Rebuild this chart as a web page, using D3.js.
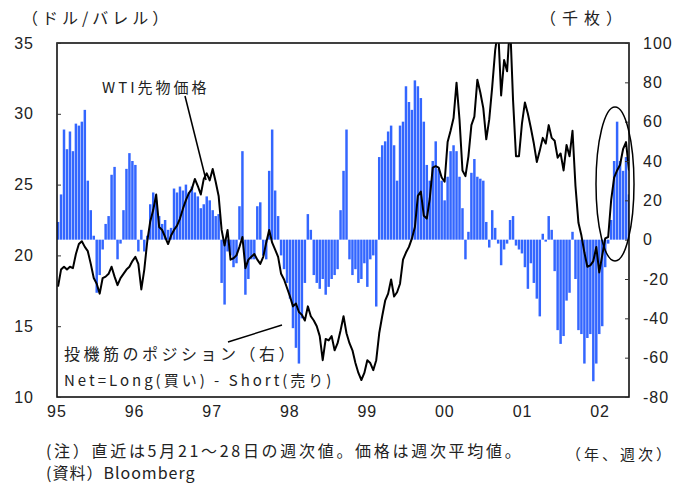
<!DOCTYPE html>
<html>
<head>
<meta charset="utf-8">
<script src="https://cdn.jsdelivr.net/npm/d3@7/dist/d3.min.js"></script>
<style>
body { margin: 0; background: #fff; }
text { font-family: "Noto Sans CJK JP", "Liberation Sans", sans-serif; fill: #222; }
.num { font-family: "Liberation Sans", Arial, sans-serif; font-size: 16px; letter-spacing: 1px; }
</style>
</head>
<body>
<div id="chart"></div>
<script>
//Width and height
var w = 677;
var h = 483;

//Plot frame (not "top": that name is taken by window.top)
var plotL = 57, plotR = 629, plotT = 43, plotB = 397;

//Data: one value every two weeks from the first week of 1995
var startDate = new Date(1995, 0, 6);
var stepDays = 14;

//WTI futures price, dollars per barrel (left axis)
var price = [
    17.8, 19.0, 19.2, 19.0, 19.2, 19.1, 20.1, 20.8, 21.0, 20.6, 20.3, 19.4, 18.4, 18.0, 17.3, 18.4, 18.5, 18.7, 19.2, 18.5,
    17.9, 18.4, 18.7, 19.0, 19.2, 19.6, 19.9, 19.4, 17.6, 19.0, 21.0, 22.4, 23.2, 24.3, 22.0, 21.8, 21.3, 20.8, 21.4, 21.8,
    22.1, 22.6, 23.3, 23.9, 24.4, 24.7, 25.4, 24.9, 24.3, 25.4, 25.8, 25.3, 26.1, 25.2, 24.2, 21.8, 20.7, 21.8, 19.7, 19.8,
    20.0, 20.6, 21.3, 19.1, 19.7, 19.9, 20.1, 19.7, 19.4, 19.9, 20.9, 21.8, 20.9, 20.4, 19.9, 18.7, 18.3, 17.7, 17.1, 16.4,
    16.6, 16.0, 15.8, 15.4, 16.4, 15.7, 15.4, 15.0, 14.3, 12.6, 14.1, 14.0, 14.3, 13.3, 13.8, 14.7, 15.7, 14.5, 13.8, 13.3,
    12.4, 11.7, 11.2, 11.7, 12.6, 12.4, 11.9, 12.6, 14.5, 15.7, 16.8, 17.3, 18.3, 17.1, 17.4, 18.0, 19.7, 20.2, 20.6, 21.2,
    22.0, 24.2, 24.5, 22.8, 22.6, 24.0, 26.2, 26.3, 26.2, 25.5, 25.2, 28.0, 28.8, 29.7, 32.2, 29.6, 26.0, 25.6, 27.0, 29.2,
    29.8, 32.4, 31.5, 30.4, 28.2, 29.6, 31.9, 34.5, 36.0, 31.3, 33.8, 33.0, 36.5, 31.0, 27.0, 27.0, 29.3, 30.8, 30.0, 29.0,
    27.9, 26.6, 27.4, 28.3, 27.9, 29.2, 28.3, 28.1, 26.9, 27.2, 26.0, 27.8, 27.0, 28.8, 24.9, 22.3, 21.4, 20.2, 19.2, 19.3,
    19.6, 20.6, 18.8, 20.0, 21.2, 21.3, 23.9, 25.5, 26.0, 26.4, 27.5, 28.0, 26.0
];

//Speculators' net position, thousand contracts (right axis)
var position = [
    9, 23, 56, 46, 55, 45, 59, 58, 60, 66, 30, 15, 2, -27, -18, -5, 8, 12, 33, 37,
    -10, -2, 15, 36, 44, 40, 38, -6, 5, -6, 2, 18, 24, 20, 12, 8, 10, 5, 6, 26,
    24, 27, 25, 28, 24, 27, 24, 22, 16, 18, 22, 20, 15, 12, 13, -22, -33, -6, -8, -14,
    -12, 17, 45, -28, -20, -10, -10, 17, 19, -8, -10, 35, 56, 25, 12, -8, -15, -22, -30, -45,
    -55, -63, -40, -22, 13, 5, -18, -22, -25, -20, -28, -24, -20, -18, -15, 15, 35, 56, -10, -18,
    -15, -22, -20, -12, -24, -10, -8, -34, 42, 48, 50, 55, 58, 48, 30, 58, 60, 78, 70, 66,
    81, 78, 72, 60, 38, 30, 40, 50, 36, 30, 20, 32, 45, 48, 45, 32, 16, -10, 4, 34,
    41, 32, 31, 30, 9, -4, 15, 6, -2, -13, -5, -2, 10, 12, -3, -5, -7, -14, -25, -12,
    -22, -30, -39, 3, -1, 12, 5, -16, -46, -53, -49, -31, -27, 4, -20, -46, -48, -63, -50, -48,
    -72, -63, -48, -44, -14, -2, 10, 40, 60, 40, 35, 42, 23
];

//Tick labels
var leftTicks = [10, 15, 20, 25, 30, 35];
var rightTicks = [-80, -60, -40, -20, 0, 20, 40, 60, 80, 100];
var yearLabels = ["95", "96", "97", "98", "99", "00", "01", "02"];
var years = [1995, 1996, 1997, 1998, 1999, 2000, 2001, 2002];

//Build the rows
var rows = price.map(function(p, i) {
    return {date: d3.timeDay.offset(startDate, i * stepDays), price: p, pos: position[i]};
});

//Scales
var x = d3.scaleTime()
    .domain([new Date(1995, 0, 1), new Date(2002, 4, 17)])
    .range([plotL, plotR]);
var yL = d3.scaleLinear().domain([10, 35]).range([plotB, plotT]);
var yR = d3.scaleLinear().domain([-80, 100]).range([plotB, plotT]);

var step = x(d3.timeDay.offset(startDate, stepDays)) - x(startDate);
var barW = step - 0.5;

//Create SVG element
var svg = d3.select("#chart")
    .append("svg")
    .attr("width", w)
    .attr("height", h);

svg.append("clipPath")
    .attr("id", "plotclip")
    .append("rect")
    .attr("x", plotL)
    .attr("y", plotT)
    .attr("width", plotR - plotL)
    .attr("height", plotB - plotT);

var plot = svg.append("g").attr("clip-path", "url(#plotclip)");

//Bars for the position
plot.selectAll("rect.bar")
    .data(rows)
    .enter()
    .append("rect")
    .attr("class", "bar")
    .attr("x", function(d) { return x(d.date) - barW / 2; })
    .attr("width", barW)
    .attr("y", function(d) { return yR(Math.max(0, d.pos)); })
    .attr("height", function(d) { return Math.abs(yR(d.pos) - yR(0)); })
    .style("fill", "#3366ff");

//Price line
var line = d3.line()
    .x(function(d) { return x(d.date); })
    .y(function(d) { return yL(d.price); });

plot.append("path")
    .datum(rows)
    .attr("d", line)
    .style("fill", "none")
    .style("stroke", "#000")
    .style("stroke-width", 2)
    .style("stroke-linejoin", "round");

//Frame
svg.append("rect")
    .attr("x", plotL)
    .attr("y", plotT)
    .attr("width", plotR - plotL)
    .attr("height", plotB - plotT)
    .style("fill", "none")
    .style("stroke", "#111")
    .style("stroke-width", 1.6);

//Left axis
var axL = svg.append("g")
    .attr("transform", "translate(" + plotL + ",0)")
    .call(d3.axisLeft(yL).tickValues(leftTicks).tickSize(-4).tickPadding(23).tickFormat(d3.format("d")));
//Right axis
var axR = svg.append("g")
    .attr("transform", "translate(" + plotR + ",0)")
    .call(d3.axisRight(yR).tickValues(rightTicks).tickSize(-4).tickPadding(14).tickFormat(function(d) { return d < 0 ? "-" + Math.abs(d) : d; }));

[axL, axR].forEach(function(a) {
    a.select(".domain").remove();
    a.selectAll("line").style("stroke", "#333");
    a.selectAll("text").attr("class", "num").style("fill", "#222");
});

//Year labels
svg.selectAll("text.year")
    .data(years)
    .enter()
    .append("text")
    .attr("class", "year num")
    .attr("x", function(d) { return x(new Date(d, 0, 1)); })
    .attr("y", 417)
    .attr("text-anchor", "middle")
    .text(function(d, i) { return yearLabels[i]; });

//Axis titles
svg.append("text").attr("x", 22).attr("y", 24).style("font-size", "16px").style("letter-spacing", "4px").text("（ドル/バレル）");
svg.append("text").attr("x", 540).attr("y", 24).style("font-size", "16px").style("letter-spacing", "6px").text("（千枚）");

//Series annotations
svg.append("text").attr("x", 102).attr("y", 93).style("font-size", "15px").style("letter-spacing", "3px").text("WTI先物価格");
svg.append("line").attr("x1", 185).attr("y1", 96).attr("x2", 206).attr("y2", 180)
    .style("stroke", "#000").style("stroke-width", 1.5);

svg.append("text").attr("x", 64).attr("y", 360).style("font-size", "16px").style("letter-spacing", "3.5px").text("投機筋のポジション（右）");
svg.append("text").attr("x", 64).attr("y", 386).style("font-size", "15px").style("letter-spacing", "3px").text("Net=Long(買い) - Short(売り)");
svg.append("line").attr("x1", 228).attr("y1", 342).attr("x2", 282).attr("y2", 325)
    .style("stroke", "#000").style("stroke-width", 1.5);

//Ellipse around the latest weeks
svg.append("ellipse")
    .attr("cx", 615).attr("cy", 184).attr("rx", 19).attr("ry", 77)
    .style("fill", "none").style("stroke", "#000").style("stroke-width", 1.5);

//Notes
svg.append("text").attr("x", 46).attr("y", 457).style("font-size", "16px").style("letter-spacing", "2.7px").text("(注）直近は5月21～28日の週次値。価格は週次平均値。");
svg.append("text").attr("x", 46).attr("y", 479).style("font-size", "16px").style("letter-spacing", "1px").text("(資料）Bloomberg");
svg.append("text").attr("x", 566).attr("y", 460).style("font-size", "15px").style("letter-spacing", "3px").text("（年、週次）");
</script>
</body>
</html>
